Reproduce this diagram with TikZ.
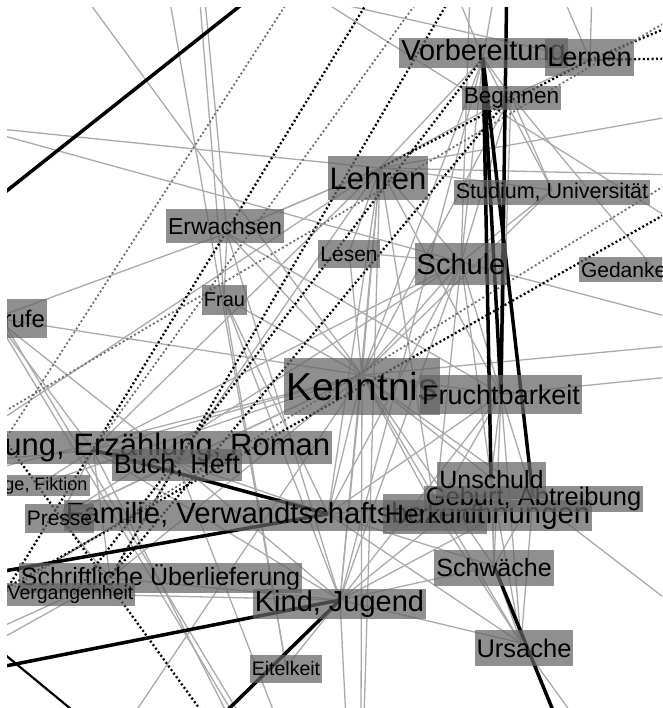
\documentclass[tikz,border=0pt]{standalone}
\usepackage{fontspec}
\setmainfont{Liberation Sans}
\usetikzlibrary{positioning}

\definecolor{boxgray}{RGB}{100,100,100}
\definecolor{edgegray}{RGB}{170,170,170}
\definecolor{dotgray}{RGB}{110,110,110}

\begin{document}
\begin{tikzpicture}[
    x=1pt, y=-1pt,
    topic/.style 2 args={rectangle, fill=boxgray, fill opacity=0.72, text opacity=1, text=black,
        inner xsep=2pt, inner ysep=0pt, minimum height=#2pt, font=\fontsize{#1}{#1}\selectfont},
    weak/.style={draw=edgegray, line width=1.3pt},
    strong/.style={draw=black, line width=3.5pt},
    medium/.style={draw=black, line width=2.2pt},
    dotblack/.style={draw=black, line width=2.3pt, dash pattern=on 2pt off 2.4pt},
    dotgrey/.style={draw=dotgray, line width=1.8pt, dash pattern=on 2pt off 2.4pt}
]
\useasboundingbox (0,0) rectangle (662,708);
\begin{scope}
\clip (7,8) rectangle (662,708);

% hubs (where the connectors meet)
\coordinate (vorb) at (483,58);
\coordinate (lern) at (590,60);
\coordinate (begi) at (511,96);
\coordinate (lehr) at (380,168);
\coordinate (stud) at (552,190);
\coordinate (erwa) at (227,233);
\coordinate (lese) at (349,252);
\coordinate (schu) at (461,262);
\coordinate (geda) at (630,268);
\coordinate (frau) at (224,298);
\coordinate (beru) at (-5,318);
\coordinate (kenn) at (362,375);
\coordinate (fruc) at (501,394);
\coordinate (erza) at (93,450);
\coordinate (buch) at (177,462);
\coordinate (lueg) at (40,484);
\coordinate (fami) at (328,514);
\coordinate (pres) at (60,518);
\coordinate (herk) at (435,510);
\coordinate (unsc) at (491,478);
\coordinate (gebu) at (533,497);
\coordinate (schr) at (110,578);
\coordinate (verg) at (74,594);
\coordinate (kind) at (340,600);
\coordinate (schw) at (494,566);
\coordinate (ursa) at (521,643);
\coordinate (eite) at (286,667);

% topics outside the frame
\coordinate (top1) at (80,-10);
\coordinate (top2) at (168,-10);
\coordinate (top3) at (199,-10);
\coordinate (top4) at (204,-10);
\coordinate (top5) at (300,-5);
\coordinate (top6) at (305,-10);
\coordinate (top7) at (455,-10);
\coordinate (top8) at (470,-10);
\coordinate (top9) at (495,-10);
\coordinate (top10) at (560,-10);
\coordinate (top11) at (592,-10);
\coordinate (top12) at (507,-30);
\coordinate (left1) at (-10,128);
\coordinate (left2) at (-10,132);
\coordinate (left3) at (-10,427);
\coordinate (left4) at (-10,300);
\coordinate (left5) at (-10,470);
\coordinate (left6) at (-10,460);
\coordinate (left7) at (-10,632);
\coordinate (left8) at (-10,645);
\coordinate (right1) at (680,115);
\coordinate (right2) at (680,175);
\coordinate (right3) at (680,225);
\coordinate (right4) at (680,320);
\coordinate (right5) at (680,345);
\coordinate (right6) at (680,376);
\coordinate (right7) at (680,610);
\coordinate (right8) at (680,300);
\coordinate (bot1) at (130,720);
\coordinate (bot2) at (233,725);
\coordinate (bot3) at (240,725);
\coordinate (bot4) at (246,725);
\coordinate (bot5) at (361,720);
\coordinate (bot6) at (364,720);
\coordinate (bot7) at (346,720);
\coordinate (bot8) at (277,720);
\coordinate (bot9) at (580,725);

% light connectors
\foreach \a/\b in {kenn/lehr, kenn/schu, kenn/lese, kenn/erwa, kenn/frau, kenn/beru, kenn/top1,
    kenn/vorb, kenn/begi, kenn/stud, kenn/fruc, kenn/erza, kenn/buch, kenn/lueg, kenn/pres,
    kenn/fami, kenn/herk, kenn/unsc, kenn/gebu, kenn/schw, kenn/ursa, kenn/kind, kenn/schr,
    kenn/bot5, kenn/left5, kenn/right5, kenn/bot1,
    lehr/vorb, lehr/begi, lehr/stud, lehr/schu, lehr/lese, lehr/erwa, lehr/left1, lehr/left3,
    lehr/fruc, lehr/buch, lehr/erza, lehr/kind, lehr/fami, lehr/herk, lehr/right1, lehr/right2, lehr/bot6,
    schu/vorb, schu/begi, schu/stud, schu/lese, schu/left2, schu/fruc, schu/erza, schu/fami,
    schu/kind, schu/unsc, schu/herk, schu/right4, schu/pres, schu/top8,
    vorb/begi, vorb/lern, vorb/stud, vorb/top7, vorb/top9, vorb/schw, vorb/kind,
    begi/lern, begi/stud, begi/fruc, begi/right8, lern/top10, lern/top11, lern/top5, top6/right3,
    fruc/right6, fruc/unsc, fruc/gebu, fruc/schw, fruc/ursa, fruc/kind, fruc/fami, fruc/herk,
    gebu/right7, gebu/ursa, gebu/schw, gebu/kind, gebu/fami,
    unsc/ursa, unsc/schw, unsc/kind, unsc/herk,
    schw/ursa, schw/kind, schw/fami, ursa/kind, ursa/bot9, ursa/herk, ursa/fami,
    kind/bot7, kind/eite, kind/schr, kind/verg, kind/buch, kind/erza,
    erza/buch, erza/beru, erza/pres, erza/lueg, erza/schr, erza/left6, erza/bot2,
    beru/buch, beru/bot3, left4/bot4, buch/fami, buch/pres, buch/schr, buch/bot8,
    pres/schr, schr/verg, verg/left7, schr/left8,
    erwa/beru, erwa/lehr, erwa/fruc, erwa/kind, erwa/top4, frau/top3, frau/kind, frau/fami,
    frau/eite, top2/eite, erwa/frau}
    \draw[weak] (\a) -- (\b);

% dotted connectors
\coordinate (dot1) at (378,-15);
\coordinate (dot2) at (-12,620);
\coordinate (dot3) at (292,-5);
\coordinate (dot4) at (-5,455);
\coordinate (dot5) at (422,-5);
\coordinate (dot6) at (452,-5);
\coordinate (dot9) at (-10,420);
\coordinate (dot10) at (215,730);
\coordinate (dot11) at (690,200);
\coordinate (dot12) at (-15,600);
\coordinate (dot13) at (690,170);
\coordinate (dot14) at (-15,605);
\coordinate (dot15) at (700,14);
\coordinate (dot16) at (700,58);
\coordinate (dot17) at (-10,420);
\coordinate (dot18) at (700,2);
\draw[dotblack] (dot1) -- (dot2);
\draw[dotgrey] (dot3) -- (dot4);
\draw[dotgrey] (dot5) -- (erza);
\draw[dotblack] (dot6) -- (schr);
\draw[dotblack] (vorb) -- (verg);
\draw[dotblack] (begi) -- (schr);
\draw[dotblack] (dot9) -- (dot10);
\draw[dotblack] (dot11) -- (dot12);
\draw[dotgrey] (dot13) -- (dot14);
\draw[dotblack] (lehr) -- (lern);
\draw[dotblack] (lern) -- (dot15);
\draw[dotblack] (lern) -- (dot16);
\draw[dotgrey] (dot17) -- (dot18);

% heavy connectors
\coordinate (heavy1) at (-30,220);
\coordinate (heavy2) at (260,-10);
\coordinate (heavy3) at (-30,577);
\coordinate (heavy4) at (-30,673);
\coordinate (heavy5) at (200,737);
\coordinate (heavy6) at (565,740);
\coordinate (heavy7) at (-20,634);
\coordinate (heavy8) at (100,733);
\draw[strong] (heavy1) -- (heavy2);
\draw[strong] (vorb) -- (unsc);
\draw[strong] (vorb) -- (fruc);
\draw[strong] (vorb) -- (gebu);
\draw[strong] (top12) -- (fruc);
\draw[strong] (erza) -- (fami);
\draw[strong] (heavy3) -- (fami);
\draw[strong] (heavy4) -- (kind);
\draw[strong] (kind) -- (heavy5);
\draw[strong] (schw) -- (heavy6);
\draw[medium] (heavy7) -- (heavy8);

% topic labels
\node[topic={29}{30}] (vorbL) at (483.5,53) {Vorbereitung};
\node[topic={27}{37}] (lernL) at (589.5,57.5) {Lernen};
\node[topic={22.5}{24}] (begiL) at (511.5,98) {Beginnen};
\node[topic={31}{44}] (lehrL) at (378,178) {Lehren};
\node[topic={21.5}{25}] (studL) at (552,192.5) {Studium, Universität};
\node[topic={23}{34}] (erwaL) at (225,226) {Erwachsen};
\node[topic={21}{28}] (leseL) at (349,254) {Lesen};
\node[topic={29}{42}] (schuL) at (461,264) {Schule};
\node[topic={21}{25}] (gedaL) at (629.5,269.5) {Gedanken};
\node[topic={20}{30}] (frauL) at (224.5,300) {Frau};
\node[topic={24}{39}] (beruL) at (9.6,318.5) {Berufe};
\node[topic={39}{57}] (kennL) at (362,386.5) {Kenntnis};
\node[topic={27}{39}] (frucL) at (501,394.5) {Fruchtbarkeit};
\node[topic={31}{33}] (erzaL) at (132,447.5) {Dichtung, Erzählung, Roman};
\node[topic={27}{32}] (buchL) at (177,465) {Buch, Heft};
\node[topic={18}{21}] (luegL) at (36,485.5) {Lüge, Fiktion};
\node[topic={29.3}{31}] (famiL) at (328,515.5) {Familie, Verwandtschaftsbezeichnungen};
\node[topic={21}{29}] (presL) at (59.5,518.5) {Presse};
\node[topic={26.5}{40}] (herkL) at (435,514) {Herkunft};
\node[topic={25.5}{26}] (gebuL) at (533.5,499) {Geburt, Abtreibung};
\node[topic={25}{37}] (unscL) at (491.5,480) {Unschuld};
\node[topic={25}{30}] (schrL) at (160.5,578) {Schriftliche Überlieferung};
\node[topic={19.5}{23}] (vergL) at (70.5,594.5) {Vergangenheit};
\node[topic={29}{30}] (kindL) at (339.5,604) {Kind, Jugend};
\node[topic={25}{36}] (schwL) at (494,568) {Schwäche};
\node[topic={25.5}{36}] (ursaL) at (524,648) {Ursache};
\node[topic={19.5}{28}] (eiteL) at (286,669) {Eitelkeit};
\end{scope}
\end{tikzpicture}
\end{document}
